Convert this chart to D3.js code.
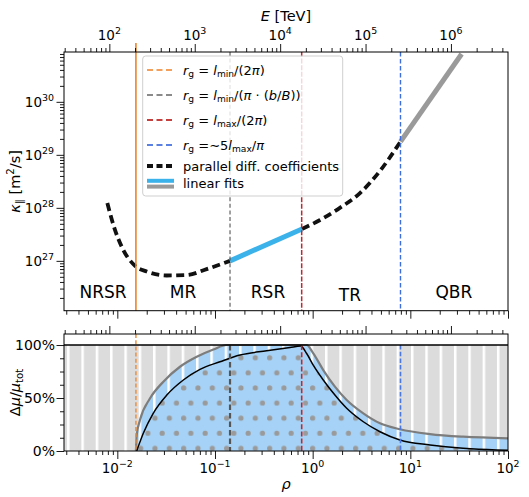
<!DOCTYPE html>
<html><head><meta charset="utf-8">
<script src="https://cdn.jsdelivr.net/npm/d3@7"></script>
<style>
body{margin:0;background:#fff}
svg{display:block}
text{font-family:"DejaVu Sans",sans-serif;white-space:pre;fill:#000}
</style>
</head><body>
<svg id="c" width="529" height="497"></svg>
<script>
// ---------------- data ----------------
const rhoCurve   = [0.0079, 0.00946, 0.0115, 0.0152, 0.020, 0.032, 0.0513, 0.0822, 0.1426, 0.778, 1.19, 1.9, 3.05, 4.9, 7.94];
const kappaCurve = [1.23e28, 3.85e27, 1.61e27, 8.05e26, 6.3e26, 5.3e26, 5.4e26, 7.0e26, 1.0e27, 4.0e27, 5.9e27, 1.0e28, 1.9e28, 5.0e28, 1.78e29];
const fitBlueRho = [0.1426, 0.778];
const fitBlueKappa = [1.0e27, 4.0e27];
const fitGrayRho = [7.94, 33.5];
const fitGrayKappa = [1.78e29, 8.0e30];
const boundaryRho = [0.0155, 0.1425, 0.772, 7.93];
const regionNames = ["NRSR", "MR", "RSR", "TR", "QBR"];
const regionRho = [0.00714, 0.047, 0.349, 2.41, 27.9];
const regionKappa = [1.98e26, 1.98e26, 1.98e26, 1.78e26, 1.98e26];

const grayRho  = [0.0155, 0.0158, 0.01706, 0.02163, 0.0296, 0.0438, 0.065, 0.0962, 0.132, 0.868, 1.014, 1.284, 1.69, 2.23, 3.30, 4.89, 7.83, 15.9, 34.7, 100];
const grayFrac = [0, 0.151, 0.292, 0.497, 0.654, 0.795, 0.889, 0.958, 1.0, 1.0, 0.922, 0.764, 0.607, 0.481, 0.355, 0.261, 0.205, 0.16, 0.135, 0.12];
const blackRho  = [0.0158, 0.01845, 0.0233, 0.0321, 0.0474, 0.0702, 0.1125, 0.180, 0.338, 0.586, 0.753, 0.868, 1.014, 1.284, 1.69, 2.23, 3.30, 4.89, 7.83, 15.9, 34.7, 76.4, 100];
const blackFrac = [0, 0.167, 0.356, 0.528, 0.670, 0.770, 0.842, 0.906, 0.946, 0.977, 0.99, 0.92, 0.81, 0.67, 0.528, 0.403, 0.276, 0.182, 0.104, 0.057, 0.025, 0.01, 0.008];

const rhoTickExps = [-2, -1, 0, 1, 2];
const eTickExps = [2, 3, 4, 5, 6];
const kappaTickExps = [27, 28, 29, 30];
const fracTicks = [0, 0.5, 1.0];
const fracTickLabels = ["0%", "50%", "100%"];
const fracMinor = [0.125, 0.25, 0.375, 0.625, 0.75, 0.875];

// ---------------- layout ----------------
const X0 = 64, X1 = 508;
const TY0 = 52, TY1 = 310.7;
const BY0 = 334, BY1 = 451;
const FS = 13.5;

const svg = d3.select("#c");
const x  = d3.scaleLog().domain([Math.pow(10, -2.546), 100]).range([X0, X1]);
const xE = d3.scaleLog().domain([Math.pow(10, 1.469), Math.pow(10, 6.668)]).range([X0, X1]);
const yT = d3.scaleLog().domain([1.148e26, 8.71e30]).range([TY1, TY0]);
const yB = d3.scaleLinear().domain([0, 1.104]).range([BY1, BY0]);

function logTicks(dom) {
  const a = dom[0], b = dom[1];
  const lo = Math.floor(Math.log10(a)), hi = Math.ceil(Math.log10(b));
  const maj = [], min = [];
  for (let e = lo; e <= hi; e++) for (let k = 1; k <= 9; k++) {
    const v = k * Math.pow(10, e);
    if (v < a * 0.9999 || v > b * 1.0001) continue;
    (k === 1 ? maj : min).push(v);
  }
  return {maj, min};
}

function supLabel(sel, px, py, exp, fs, anchor) {
  const t = sel.append("text").attr("x", px).attr("y", py).attr("font-size", fs).attr("text-anchor", anchor);
  t.append("tspan").text("10");
  t.append("tspan").attr("dy", -fs * 0.42).attr("font-size", fs * 0.7).text(exp < 0 ? "\u2212" + (-exp) : String(exp));
}

function rich(sel, px, py, fs, parts, attrs) {
  const t = sel.append("text").attr("x", px).attr("y", py).attr("font-size", fs);
  if (attrs) Object.entries(attrs).forEach(([k, v]) => t.attr(k, v));
  let cur = 0;
  parts.forEach(p => {
    const target = p.sub ? fs * 0.22 : (p.sup ? -fs * 0.4 : 0);
    const ts = t.append("tspan").attr("dy", target - cur);
    cur = target;
    ts.attr("font-size", (p.sub || p.sup) ? fs * 0.7 : fs);
    if (p.it) ts.attr("font-style", "italic");
    ts.text(p.t);
  });
  return t;
}

function axis(gen, scale, vals, size, tx, ty) {
  const g = svg.append("g").attr("transform", `translate(${tx},${ty})`)
    .call(gen(scale).tickValues(vals).tickSize(size).tickSizeOuter(0).tickFormat(""));
  g.select(".domain").remove();
  g.selectAll(".tick line").attr("stroke", "#000").attr("stroke-width", 0.9);
  return g;
}

const defs = svg.append("defs");
defs.append("clipPath").attr("id", "clipT").append("rect")
  .attr("x", X0).attr("y", TY0).attr("width", X1 - X0).attr("height", TY1 - TY0);
defs.append("clipPath").attr("id", "clipB").append("rect")
  .attr("x", X0).attr("y", BY0).attr("width", X1 - X0).attr("height", BY1 - BY0);
const stripe = defs.append("pattern").attr("id", "stripes").attr("patternUnits", "userSpaceOnUse")
  .attr("x", 67.05).attr("y", 0).attr("width", 14.33).attr("height", 10);
stripe.append("rect").attr("x", 0).attr("y", 0).attr("width", 2.5).attr("height", 10).attr("fill", "#fff");
const dots = defs.append("pattern").attr("id", "dots").attr("patternUnits", "userSpaceOnUse")
  .attr("x", 151.42).attr("y", 444.52).attr("width", 14.33).attr("height", 30.2);
dots.append("circle").attr("cx", 3.58).attr("cy", 3.78).attr("r", 2.6).attr("fill", "#9a9a9a");
dots.append("circle").attr("cx", 10.75).attr("cy", 18.88).attr("r", 2.6).attr("fill", "#9a9a9a");
dots.append("circle").attr("cx", -3.58).attr("cy", 18.88).attr("r", 2.6).attr("fill", "#9a9a9a");

// ================= TOP PANEL =================
const topG = svg.append("g").attr("clip-path", "url(#clipT)");

const vStyles = [
  {c: "#ec7a1c", w: 1.5, d: null},
  {c: "#555555", w: 1.1, d: "4,2.6"},
  {c: "#c0282d", w: 1.5, d: "5,1.6"},
  {c: "#3c6fdd", w: 1.4, d: "4.5,2.5"}
];
boundaryRho.forEach((r, i) => {
  const s = vStyles[i];
  const l = svg.append("line").attr("x1", x(r)).attr("x2", x(r))
    .attr("y1", i === 0 ? TY0 - 9 : TY0).attr("y2", TY1)
    .attr("stroke", s.c).attr("stroke-width", s.w);
  if (s.d) l.attr("stroke-dasharray", s.d);
});

// dashed diffusion curve (drawn in the two curved parts; the straight RSR part lies under the fit)
const pts = rhoCurve.map((r, i) => [x(r), yT(kappaCurve[i])]);
const splitA = rhoCurve.indexOf(fitBlueRho[0]), splitB = rhoCurve.indexOf(fitBlueRho[1]);
[pts.slice(0, splitA + 1), pts.slice(splitB)].forEach(seg => {
  topG.append("path").attr("d", d3.line().curve(d3.curveMonotoneX)(seg))
    .attr("fill", "none").attr("stroke", "#111").attr("stroke-width", 3.8)
    .attr("stroke-dasharray", "8,4.5");
});
topG.append("path").attr("d", d3.line()(fitBlueRho.map((r, i) => [x(r), yT(fitBlueKappa[i])])))
  .attr("stroke", "#3bb2ea").attr("stroke-width", 5).attr("fill", "none");
topG.append("path").attr("d", d3.line()(fitGrayRho.map((r, i) => [x(r), yT(fitGrayKappa[i])])))
  .attr("stroke", "#9a9a9a").attr("stroke-width", 5).attr("fill", "none");

regionNames.forEach((n, i) => {
  svg.append("text").attr("x", x(regionRho[i])).attr("y", yT(regionKappa[i]))
    .attr("text-anchor", "middle").attr("font-size", 17).text(n);
});

// legend
const lg = svg.append("g");
lg.append("rect").attr("x", 142.7).attr("y", 56).attr("width", 200).attr("height", 140)
  .attr("rx", 3).attr("fill", "rgba(255,255,255,0.82)").attr("stroke", "#cfcfcf").attr("stroke-width", 1);
const legRows = [
  {y: 70, c: "#f2a05c", w: 2, d: "6,3.5", parts: [{t: "r", it: 1}, {t: "g", sub: 1}, {t: " = "}, {t: "l", it: 1}, {t: "min", sub: 1}, {t: "/(2"}, {t: "π", it: 1}, {t: ")"}]},
  {y: 95, c: "#8a8a8a", w: 2, d: "6,3.5", parts: [{t: "r", it: 1}, {t: "g", sub: 1}, {t: " = "}, {t: "l", it: 1}, {t: "min", sub: 1}, {t: "/("}, {t: "π", it: 1}, {t: " · ("}, {t: "b", it: 1}, {t: "/"}, {t: "B", it: 1}, {t: "))"}]},
  {y: 120, c: "#c4403f", w: 2, d: "6,3.5", parts: [{t: "r", it: 1}, {t: "g", sub: 1}, {t: " = "}, {t: "l", it: 1}, {t: "max", sub: 1}, {t: "/(2"}, {t: "π", it: 1}, {t: ")"}]},
  {y: 145, c: "#5a80e2", w: 2, d: "6,3.5", parts: [{t: "r", it: 1}, {t: "g", sub: 1}, {t: " =∼5"}, {t: "l", it: 1}, {t: "max", sub: 1}, {t: "/"}, {t: "π", it: 1}]},
  {y: 166, c: "#111", w: 3.8, d: "6,3.5", parts: [{t: "parallel diff. coefficients"}]}
];
legRows.forEach(r => {
  lg.append("line").attr("x1", 147).attr("x2", 174).attr("y1", r.y).attr("y2", r.y)
    .attr("stroke", r.c).attr("stroke-width", r.w).attr("stroke-dasharray", r.d);
  rich(lg, 183, r.y + 4.6, 13, r.parts);
});
lg.append("line").attr("x1", 147).attr("x2", 174).attr("y1", 180.8).attr("y2", 180.8).attr("stroke", "#3bb2ea").attr("stroke-width", 4);
lg.append("line").attr("x1", 147).attr("x2", 174).attr("y1", 186.6).attr("y2", 186.6).attr("stroke", "#9a9a9a").attr("stroke-width", 4);
rich(lg, 183, 188, 13, [{t: "linear fits"}]);

svg.append("rect").attr("x", X0).attr("y", TY0).attr("width", X1 - X0).attr("height", TY1 - TY0)
  .attr("fill", "none").attr("stroke", "#000").attr("stroke-width", 1);

const eT = logTicks(xE.domain());
axis(d3.axisTop, xE, eT.maj, 8, 0, TY0);
axis(d3.axisTop, xE, eT.min, 4, 0, TY0);
eTickExps.forEach(e => supLabel(svg, xE(Math.pow(10, e)), 40, e, FS, "middle"));
rich(svg, (X0 + X1) / 2, 21, 14.5, [{t: "E", it: 1}, {t: " [TeV]"}], {"text-anchor": "middle"});

const rT = logTicks(x.domain());
axis(d3.axisBottom, x, rT.maj, 8, 0, TY1);
axis(d3.axisBottom, x, rT.min, 4, 0, TY1);

const kT = logTicks(yT.domain());
axis(d3.axisLeft, yT, kT.maj, 7.5, X0, 0);
axis(d3.axisLeft, yT, kT.min, 4, X0, 0);
kappaTickExps.forEach(e => supLabel(svg, 54, yT(Math.pow(10, e)) + 4.8, e, FS, "end"));
rich(svg, 0, 0, 14.5, [{t: "κ", it: 1}, {t: "∥", sub: 1}, {t: " [m"}, {t: "2", sup: 1}, {t: "/s]"}],
  {"text-anchor": "middle", "transform": `translate(20,${(TY0 + TY1) / 2}) rotate(-90)`});

// ================= BOTTOM PANEL =================
const botG = svg.append("g").attr("clip-path", "url(#clipB)");
const xMin = x.domain()[0];
botG.append("rect").attr("x", X0).attr("y", yB(1)).attr("width", X1 - X0).attr("height", yB(0) - yB(1)).attr("fill", "#dcdcdc");

const grayExt = [[xMin, 0]].concat(grayRho.map((r, i) => [r, grayFrac[i]]));
const blackExt = [[xMin, 0], [0.0156, 0]].concat(blackRho.map((r, i) => [r, blackFrac[i]]));
const areaUnder = d3.area().curve(d3.curveMonotoneX).x(d => x(d[0])).y0(yB(0)).y1(d => yB(d[1]));
const areaOver = d3.area().curve(d3.curveMonotoneX).x(d => x(d[0])).y0(yB(1)).y1(d => yB(d[1]));

botG.append("path").attr("d", areaUnder(grayExt)).attr("fill", "#a5d2f6");
botG.append("path").attr("d", areaOver(blackExt)).attr("fill", "url(#stripes)");
botG.append("path").attr("d", areaUnder(blackExt)).attr("fill", "url(#dots)");

const lineXY = d3.line().curve(d3.curveMonotoneX).x(d => x(d[0])).y(d => yB(d[1]));
botG.append("path").attr("d", lineXY(grayRho.map((r, i) => [r, grayFrac[i]])))
  .attr("fill", "none").attr("stroke", "#7d7d7d").attr("stroke-width", 2.2);
botG.append("path").attr("d", lineXY(blackRho.map((r, i) => [r, blackFrac[i]])))
  .attr("fill", "none").attr("stroke", "#000").attr("stroke-width", 1.5);

const vStylesB = [
  {c: "#ee8a34", w: 1.4, d: "4,2.2", full: true},
  {c: "#555555", w: 2.2, d: "5.5,3"},
  {c: "#c0282d", w: 1.6, d: "5,2.2"},
  {c: "#4a78e0", w: 1.6, d: "4.5,2.2"}
];
boundaryRho.forEach((r, i) => {
  const s = vStylesB[i];
  botG.append("line").attr("x1", x(r)).attr("x2", x(r))
    .attr("y1", s.full ? BY0 : yB(1)).attr("y2", BY1)
    .attr("stroke", s.c).attr("stroke-width", s.w).attr("stroke-dasharray", s.d);
});
botG.append("line").attr("x1", X0).attr("x2", X1).attr("y1", yB(1)).attr("y2", yB(1))
  .attr("stroke", "#000").attr("stroke-width", 1.6);

svg.append("rect").attr("x", X0).attr("y", BY0).attr("width", X1 - X0).attr("height", BY1 - BY0)
  .attr("fill", "none").attr("stroke", "#000").attr("stroke-width", 1);

axis(d3.axisTop, xE, eT.maj, 8, 0, BY0);
axis(d3.axisTop, xE, eT.min, 4, 0, BY0);
axis(d3.axisBottom, x, rT.maj, 8, 0, BY1);
axis(d3.axisBottom, x, rT.min, 4, 0, BY1);
rhoTickExps.forEach(e => supLabel(svg, x(Math.pow(10, e)), 472.5, e, FS, "middle"));
rich(svg, (X0 + X1) / 2, 489, 14.5, [{t: "ρ", it: 1}], {"text-anchor": "middle"});

axis(d3.axisLeft, yB, fracTicks, 7.5, X0, 0);
axis(d3.axisLeft, yB, fracMinor, 4, X0, 0);
fracTicks.forEach((f, i) => svg.append("text").attr("x", 55).attr("y", yB(f) + 5.2)
  .attr("text-anchor", "end").attr("font-size", 14).text(fracTickLabels[i]));
rich(svg, 0, 0, 14.5, [{t: "Δ"}, {t: "μ", it: 1}, {t: "/"}, {t: "μ", it: 1}, {t: "tot", sub: 1}],
  {"text-anchor": "middle", "transform": `translate(20,${(BY0 + BY1) / 2}) rotate(-90)`});
</script>
</body></html>
